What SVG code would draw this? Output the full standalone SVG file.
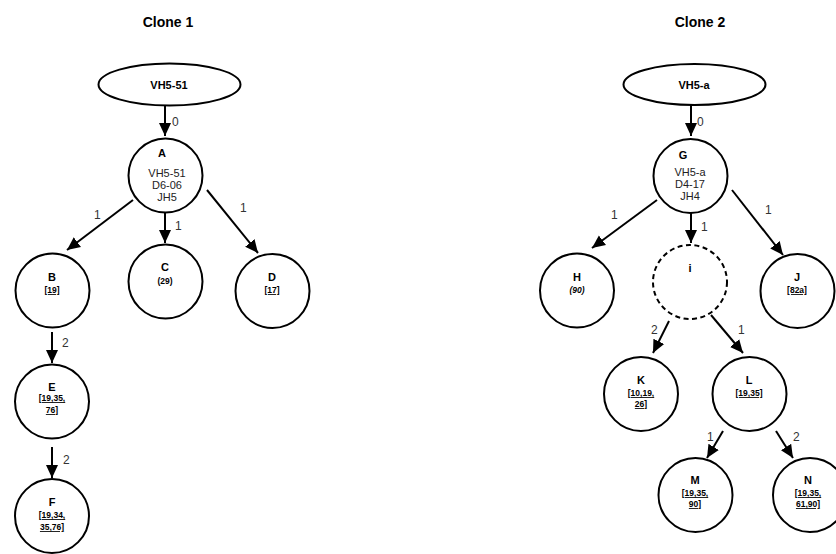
<svg xmlns="http://www.w3.org/2000/svg" width="836" height="554" viewBox="0 0 836 554">
<defs>
<marker id="ah" markerUnits="userSpaceOnUse" markerWidth="14" markerHeight="14" viewBox="0 0 14 14" refX="13" refY="7" orient="auto">
<path d="M0,1 L13,7 L0,13 Z" fill="#000"/>
</marker>
</defs>
<style>
.n{fill:#fff;stroke:#000;stroke-width:2}
.d{fill:#fff;stroke:#000;stroke-width:2;stroke-dasharray:5,3.5}
.e{stroke:#000;stroke-width:2;fill:none;marker-end:url(#ah)}
text{font-family:"Liberation Sans",Arial,sans-serif;text-anchor:middle;fill:#000}
.t{font-size:14px;font-weight:bold}
.h{font-size:11px;font-weight:bold}
.g{font-size:11px;fill:#222}
.l{font-size:12px;fill:#333;text-anchor:start}
.s{font-size:8.5px;font-weight:bold;text-decoration:underline}
.p{font-size:8.5px;font-weight:bold}
.i{font-size:8.5px;font-weight:bold;font-style:italic}
</style>
<text class="t" x="168" y="27">Clone 1</text>
<text class="t" x="700" y="27">Clone 2</text>
<g id="connectors">
<line class="e" x1="165" y1="106" x2="165" y2="136"/>
<line class="e" x1="133" y1="200" x2="67" y2="250"/>
<line class="e" x1="165" y1="213" x2="165" y2="243"/>
<line class="e" x1="207" y1="190" x2="258" y2="253"/>
<line class="e" x1="52" y1="332" x2="52" y2="363"/>
<line class="e" x1="52" y1="447" x2="52" y2="478"/>
<line class="e" x1="691" y1="105" x2="691" y2="136"/>
<line class="e" x1="657" y1="200" x2="592" y2="248"/>
<line class="e" x1="691" y1="213" x2="691" y2="243"/>
<line class="e" x1="732" y1="190" x2="783" y2="255"/>
<line class="e" x1="669" y1="321" x2="653" y2="353"/>
<line class="e" x1="711" y1="315" x2="743" y2="353"/>
<line class="e" x1="723" y1="431" x2="707" y2="458"/>
<line class="e" x1="776" y1="431" x2="793" y2="458"/>
<text class="l" x="172" y="126">0</text>
<text class="l" x="94" y="219">1</text>
<text class="l" x="175" y="230">1</text>
<text class="l" x="240" y="212">1</text>
<text class="l" x="62" y="347">2</text>
<text class="l" x="63" y="464">2</text>
<text class="l" x="697" y="126">0</text>
<text class="l" x="611" y="219">1</text>
<text class="l" x="701" y="231">1</text>
<text class="l" x="765" y="214">1</text>
<text class="l" x="651" y="334">2</text>
<text class="l" x="738" y="334">1</text>
<text class="l" x="707" y="441">1</text>
<text class="l" x="793" y="441">2</text>
</g>
<g id="VH5-51"><ellipse class="n" cx="169.5" cy="84.5" rx="71" ry="21"/><text class="h" x="169" y="89">VH5-51</text></g>
<g id="A"><circle class="n" cx="165.5" cy="175.5" r="37"/><text class="h" x="162" y="157">A</text><text class="g" x="167" y="177">VH5-51</text><text class="g" x="167" y="189">D6-06</text><text class="g" x="167" y="201">JH5</text></g>
<g id="B"><circle class="n" cx="52.5" cy="290.5" r="37"/><text class="h" x="52" y="281">B</text><text class="s" x="52" y="293">[19]</text></g>
<g id="C"><circle class="n" cx="165.5" cy="281.5" r="37"/><text class="h" x="165" y="271">C</text><text class="p" x="165" y="284">(29)</text></g>
<g id="D"><circle class="n" cx="272.5" cy="291" r="37"/><text class="h" x="272" y="281">D</text><text class="s" x="272" y="293">[17]</text></g>
<g id="E"><circle class="n" cx="52" cy="401.5" r="37"/><text class="h" x="52" y="391">E</text><text class="s" x="52" y="401">[19,35,</text><text class="s" x="52" y="413">76]</text></g>
<g id="F"><circle class="n" cx="52" cy="516" r="37"/><text class="h" x="52" y="506">F</text><text class="s" x="52" y="518">[19,34,</text><text class="s" x="52" y="530">35,76]</text></g>
<g id="VH5-a"><ellipse class="n" cx="694.5" cy="84.5" rx="71" ry="20.5"/><text class="h" x="694" y="89">VH5-a</text></g>
<g id="G"><circle class="n" cx="690.5" cy="176" r="37"/><text class="h" x="683" y="159">G</text><text class="g" x="690" y="176">VH5-a</text><text class="g" x="690" y="188">D4-17</text><text class="g" x="690" y="200">JH4</text></g>
<g id="H"><circle class="n" cx="577" cy="290.5" r="37"/><text class="h" x="577" y="281">H</text><text class="i" x="577" y="293">(90)</text></g>
<g id="i"><circle class="d" cx="690" cy="282" r="37"/><text class="h" x="690" y="272">i</text></g>
<g id="J"><circle class="n" cx="797.5" cy="291" r="37"/><text class="h" x="797" y="281">J</text><text class="s" x="797" y="293">[82a]</text></g>
<g id="K"><circle class="n" cx="641" cy="394" r="37"/><text class="h" x="641" y="384">K</text><text class="s" x="641" y="396">[10,19,</text><text class="s" x="641" y="407">26]</text></g>
<g id="L"><circle class="n" cx="749.5" cy="394" r="37"/><text class="h" x="749" y="384">L</text><text class="s" x="749" y="396">[19,35]</text></g>
<g id="M"><circle class="n" cx="695.5" cy="495" r="37"/><text class="h" x="695" y="484">M</text><text class="s" x="695" y="496">[19,35,</text><text class="s" x="695" y="507">90]</text></g>
<g id="N"><circle class="n" cx="810" cy="495" r="37"/><text class="h" x="808" y="484">N</text><text class="s" x="808" y="496">[19,35,</text><text class="s" x="808" y="507">61,90]</text></g>
</svg>
